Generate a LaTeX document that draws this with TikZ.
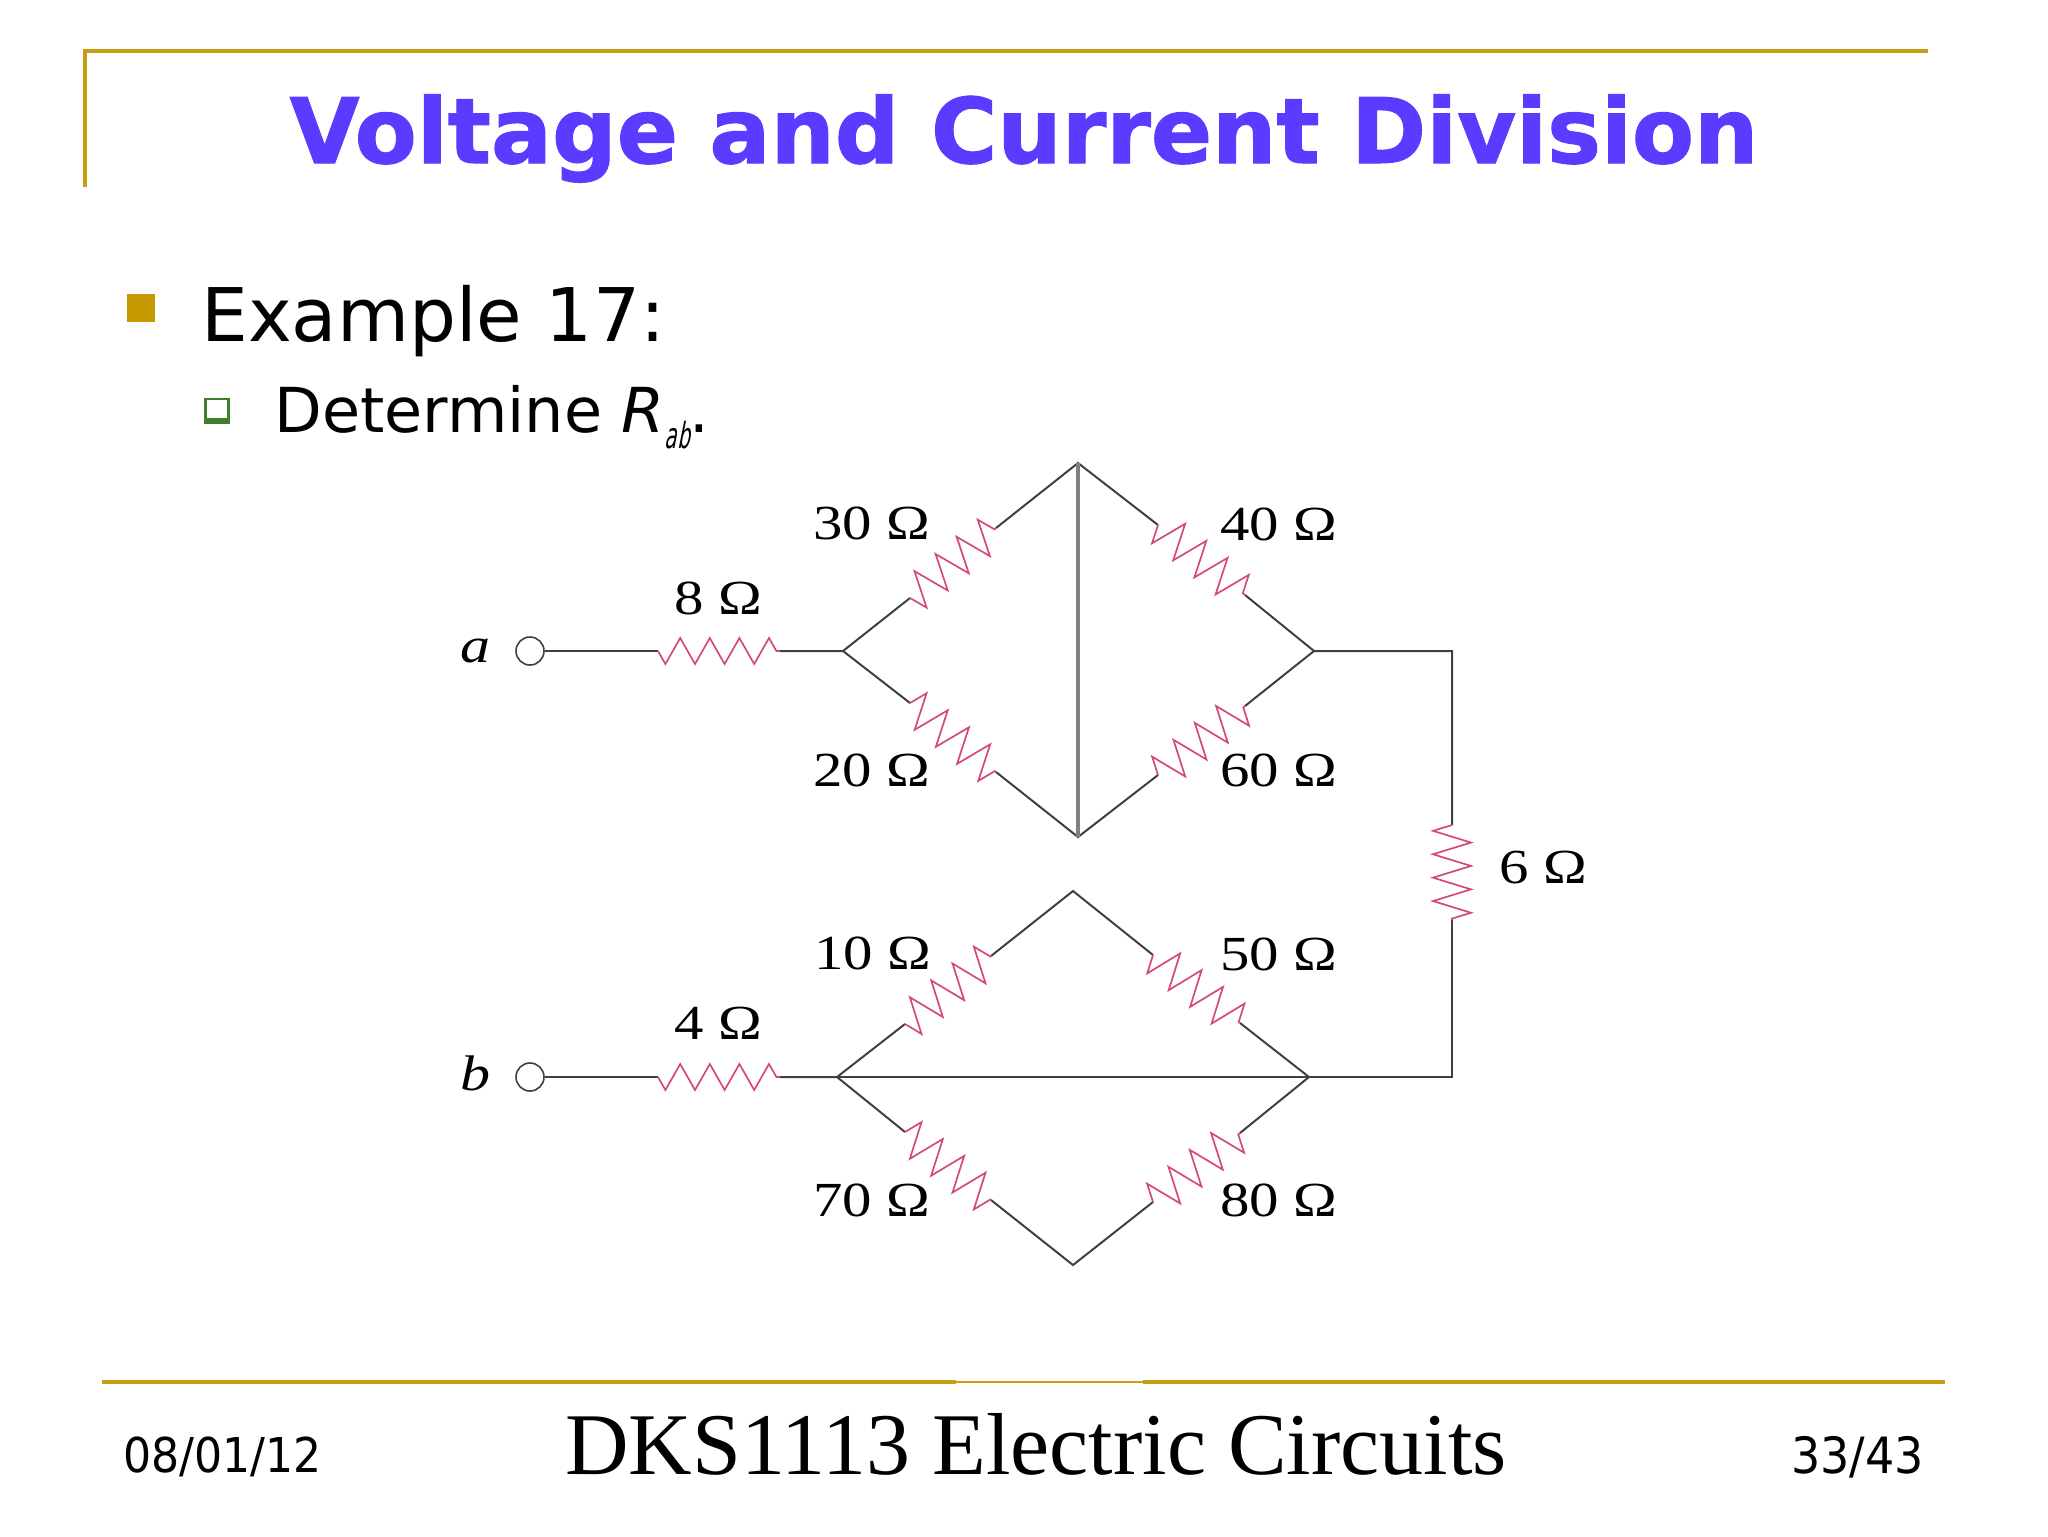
\documentclass[tikz,border=0pt]{standalone}
\usepackage{fontspec}
\usepackage{tikz}
\usetikzlibrary{decorations.pathmorphing,positioning}
\setmainfont{DejaVu Sans}
\newfontfamily\titlefont[BoldFeatures={FakeBold=1.2}]{DejaVu Sans}
\newfontfamily\circuitfont[FakeStretch=1.2]{Liberation Serif}
\newfontfamily\footfont{Liberation Serif}
\newfontfamily\datefont[FakeStretch=0.92]{DejaVu Sans}
\newfontfamily\subfont[FakeStretch=0.55,FakeSlant=0.2]{DejaVu Sans}
\definecolor{rulegold}{HTML}{C79F14}
\definecolor{bulletgold}{HTML}{C49A00}
\definecolor{titleblue}{HTML}{5B3BFF}
\definecolor{boxgreen}{HTML}{3F7F2A}
\definecolor{respink}{HTML}{D4487F}
\definecolor{wiregrey}{HTML}{404040}
\tikzset{
	wire/.style={draw=wiregrey,line width=1pt},
	resbase/.style={draw=respink,line width=0.85pt,decorate},
	resh/.style={resbase,decoration={zigzag,mirror,segment length=14.8pt,amplitude=6.5pt}},
	resv/.style={resbase,decoration={zigzag,mirror,segment length=11.7pt,amplitude=9.5pt}},
	resd/.style={resbase,decoration={zigzag,segment length=13.6pt,amplitude=9pt}},
	resdm/.style={resbase,decoration={zigzag,mirror,segment length=13.6pt,amplitude=9pt}},
	val/.style={inner sep=0pt,anchor=base,font=\circuitfont\fontsize{24.5}{26}\selectfont},
	term/.style={circle,draw=wiregrey,line width=0.8pt,fill=white,inner sep=0pt,minimum size=14pt},
	txt/.style={inner sep=0pt,anchor=base west},
	rulegoldline/.style={draw=rulegold,line width=2.2pt}
}
\begin{document}
\begin{tikzpicture}[x=0.5pt,y=-0.5pt]
	\useasboundingbox (0,0) rectangle (2048,1536);
	\draw[rulegoldline] (85,187) -- (85,51) -- (1928,51);
	\node[inner sep=0pt,anchor=base,text=titleblue,font=\titlefont\bfseries\fontsize{45.2}{50}\selectfont] (title) at (1024,163) {Voltage and Current Division};
	\fill[bulletgold] (127,294) rectangle (155,322);
	\node[txt,font=\fontsize{37}{40}\selectfont] (example) at (201,341) {Example 17:};
	\fill[boxgreen] (204,398) rectangle (230,424);
	\fill[white] (207,400) rectangle (227,418);
	\node[txt,font=\fontsize{31}{34}\selectfont] (determine) at (274,432) {Determine \textit{R}\raisebox{-8pt}{\subfont\fontsize{18}{19}\selectfont ab}.};
	\node[term] (a) at (530,651) {};
	\node[term] (b) at (530,1077) {};
	\node[inner sep=0pt,anchor=base,font=\circuitfont\itshape\fontsize{25}{27}\selectfont] (alabel) at (475,662) {a};
	\node[inner sep=0pt,anchor=base,font=\circuitfont\itshape\fontsize{25}{27}\selectfont] (blabel) at (475,1090) {b};
	\coordinate (upleft) at (843,651);
	\coordinate (uptop) at (1078,463);
	\coordinate (upbot) at (1078,837);
	\coordinate (upright) at (1314,651);
	\coordinate (loleft) at (837,1077);
	\coordinate (lotop) at (1073,891);
	\coordinate (lobot) at (1073,1265);
	\coordinate (loright) at (1309,1077);
	\coordinate (cornertop) at (1452,651);
	\coordinate (cornerbot) at (1452,1077);
	\coordinate (r8a) at (658,651);
	\coordinate (r8b) at (780,651);
	\coordinate (r4a) at (658,1077);
	\coordinate (r4b) at (780,1077);
	\coordinate (r30a) at (910,598);
	\coordinate (r30b) at (996,528);
	\coordinate (r20a) at (910,703);
	\coordinate (r20b) at (996,772);
	\coordinate (r40a) at (1158,525);
	\coordinate (r40b) at (1245,595);
	\coordinate (r60a) at (1158,775);
	\coordinate (r60b) at (1245,706);
	\coordinate (r10a) at (905,1024);
	\coordinate (r10b) at (991,956);
	\coordinate (r70a) at (905,1132);
	\coordinate (r70b) at (991,1200);
	\coordinate (r50a) at (1153,955);
	\coordinate (r50b) at (1240,1023);
	\coordinate (r80a) at (1153,1202);
	\coordinate (r80b) at (1240,1133);
	\coordinate (r6a) at (1452,825);
	\coordinate (r6b) at (1452,920);
	\draw[wire] (a) -- (r8a);
	\draw[wire] (r8b) -- (upleft) -- (r30a);
	\draw[wire] (upleft) -- (r20a);
	\draw[wire] (r30b) -- (uptop) -- (r40a);
	\draw[wire] (r20b) -- (upbot) -- (r60a);
	\draw[wire] (r40b) -- (upright) -- (cornertop) -- (r6a);
	\draw[wire] (r60b) -- (upright);
	\draw[draw=gray,line width=1.6pt] (uptop) -- (upbot);
	\draw[wire] (b) -- (r4a);
	\draw[wire] (r4b) -- (loleft) -- (r10a);
	\draw[wire] (loleft) -- (r70a);
	\draw[wire] (r10b) -- (lotop) -- (r50a);
	\draw[wire] (r70b) -- (lobot) -- (r80a);
	\draw[wire] (r50b) -- (loright) -- (r80b);
	\draw[wire] (loleft) -- (loright) -- (cornerbot) -- (r6b);
	\draw[resh] (r8a) -- (r8b);
	\draw[resh] (r4a) -- (r4b);
	\draw[resv] (r6a) -- (r6b);
	\draw[resdm] (r30a) -- (r30b);
	\draw[resd] (r20a) -- (r20b);
	\draw[resdm] (r40a) -- (r40b);
	\draw[resd] (r60a) -- (r60b);
	\draw[resdm] (r10a) -- (r10b);
	\draw[resd] (r70a) -- (r70b);
	\draw[resdm] (r50a) -- (r50b);
	\draw[resd] (r80a) -- (r80b);
	\node[val] (l8) at (718,614) {8 Ω};
	\node[val] (l30) at (872,539) {30 Ω};
	\node[val] (l20) at (872,786) {20 Ω};
	\node[val] (l40) at (1279,540) {40 Ω};
	\node[val] (l60) at (1279,786) {60 Ω};
	\node[val] (l6) at (1543,883) {6 Ω};
	\node[val] (l10) at (873,969) {10 Ω};
	\node[val] (l50) at (1279,970) {50 Ω};
	\node[val] (l4) at (718,1039) {4 Ω};
	\node[val] (l70) at (872,1216) {70 Ω};
	\node[val] (l80) at (1279,1216) {80 Ω};
	\draw[rulegoldline] (102,1382) -- (956,1382);
	\draw[draw=rulegold,line width=1.1pt] (956,1382) -- (1143,1382);
	\draw[rulegoldline] (1143,1382) -- (1945,1382);
	\node[inner sep=0pt,anchor=base,font=\footfont\fontsize{44}{47}\selectfont] (course) at (1036,1474) {DKS1113 Electric Circuits};
	\node[txt,font=\datefont\fontsize{24}{26}\selectfont] (date) at (123,1472) {08/01/12};
	\node[inner sep=0pt,anchor=base east,font=\datefont\fontsize{25}{27}\selectfont] (page) at (1924,1473) {33/43};
\end{tikzpicture}
\end{document}
